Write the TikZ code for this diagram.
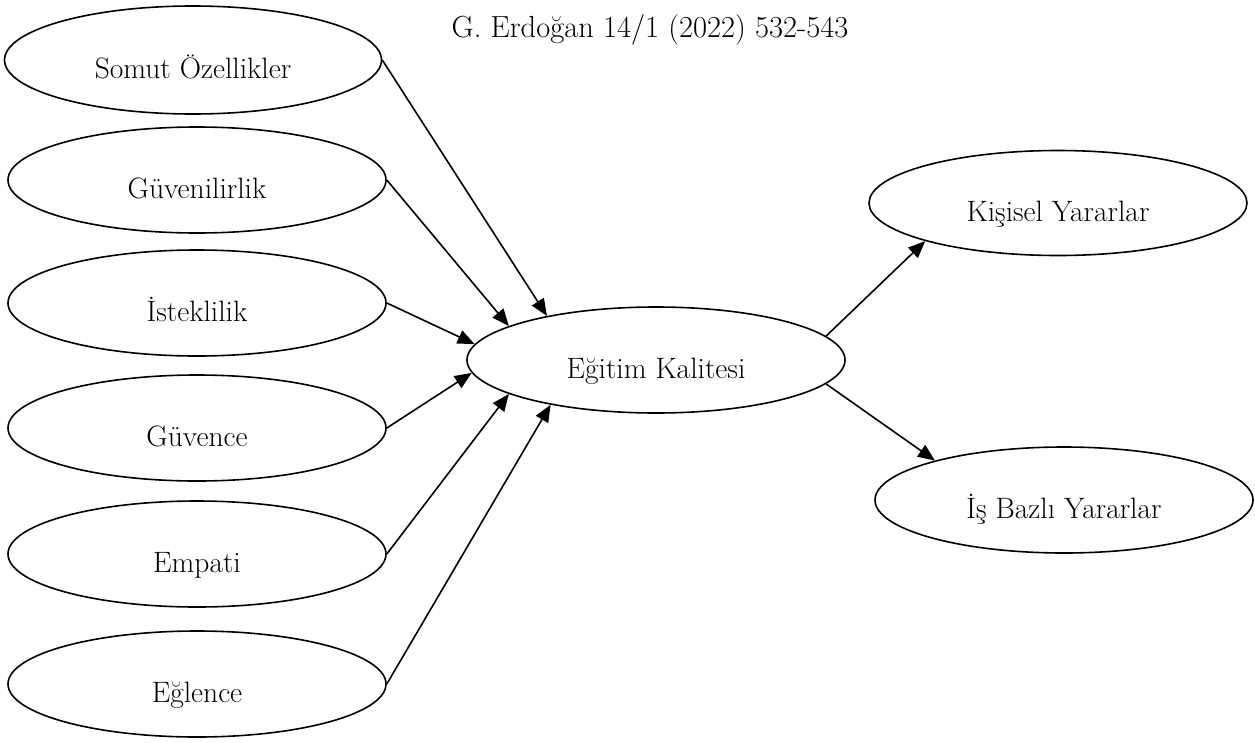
\documentclass[tikz,border=0pt]{standalone}
\usepackage{fontspec}
\usetikzlibrary{shapes,arrows.meta}

\begin{document}
\begin{tikzpicture}[x=1pt,y=-1pt]
  \tikzstyle{oval}=[ellipse,draw,line width=1.6pt,minimum width=378pt,minimum height=106pt,inner sep=0pt,text height=36pt,text depth=0pt,font=\fontsize{29.5}{34}\selectfont]
  \tikzstyle{link}=[line width=1.6pt,-{Triangle[length=17pt,width=14pt]}]
  \useasboundingbox (0,0) rectangle (1255,742);
  \node[anchor=base,font=\fontsize{30.5}{35}\selectfont] (ref) at (650,37) {G. Erdoğan 14/1 (2022) 532-543};
  % left column
  \node[oval,minimum height=108pt,minimum width=377pt] (somut) at (193,60) {Somut Özellikler};
  \node[oval] (guvenilir) at (197,180) {Güvenilirlik};
  \node[oval] (istek) at (197,303) {İsteklilik};
  \node[oval] (guvence) at (197,428) {Güvence};
  \node[oval] (empati) at (197,554) {Empati};
  \node[oval] (eglence) at (197,684) {Eğlence};
  % middle and right
  \node[oval] (egitim) at (656,360) {Eğitim Kalitesi};
  \node[oval,minimum height=105pt] (kisisel) at (1058,203) {Kişisel Yararlar};
  \node[oval] (isbazli) at (1064,500) {İş Bazlı Yararlar};
  \draw[link] (somut.east) -- (egitim.158.9);
  \draw[link] (guvenilir.east) -- (egitim.167.1);
  \draw[link] (istek.east) -- (egitim.175.7);
  \draw[link] (guvence.east) -- (egitim.184.7);
  \draw[link] (empati.east) -- (egitim.193);
  \draw[link] (eglence.east) -- (egitim.203);
  \draw[link] (egitim.8.2) -- (kisisel.196.8);
  \draw[link] (egitim.352.9) -- (isbazli.163.2);
\end{tikzpicture}
\end{document}
